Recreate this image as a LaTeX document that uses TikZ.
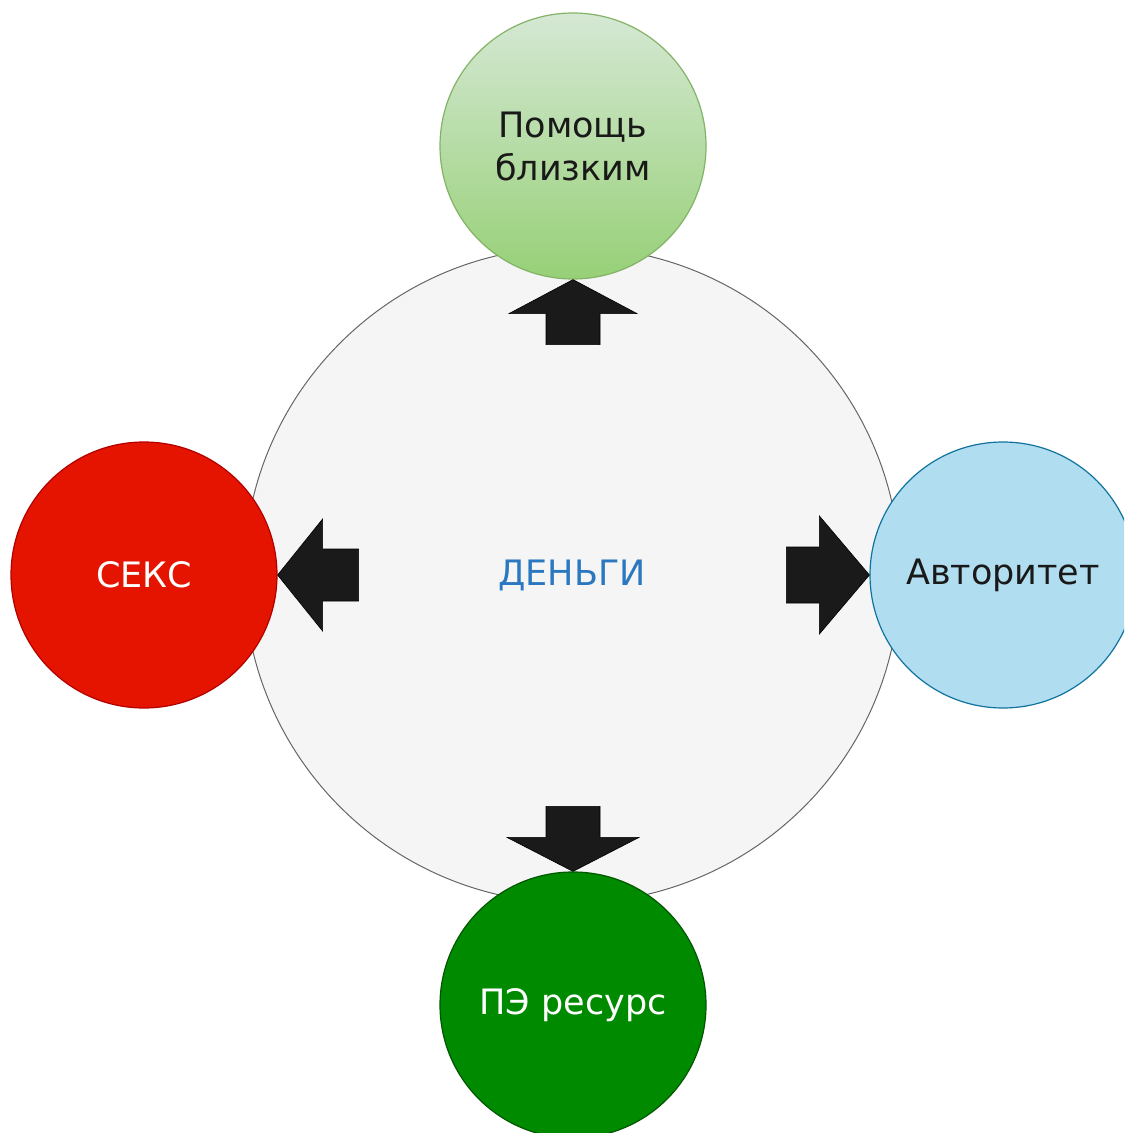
\documentclass[tikz,border=0pt]{standalone}
\usepackage{fontspec}
\setmainfont{DejaVu Sans}
\usepackage{tikz}
\usetikzlibrary{positioning}

\definecolor{moneyfill}{HTML}{F5F5F5}
\definecolor{moneyline}{HTML}{666666}
\definecolor{moneytext}{HTML}{2B78C0}
\definecolor{helptop}{HTML}{D5E8D4}
\definecolor{helpbottom}{HTML}{97D077}
\definecolor{helpline}{HTML}{82B366}
\definecolor{sexfill}{HTML}{E51400}
\definecolor{sexline}{HTML}{B20000}
\definecolor{authfill}{HTML}{B1DDF0}
\definecolor{authline}{HTML}{10739E}
\definecolor{resfill}{HTML}{008A00}
\definecolor{resline}{HTML}{005700}
\definecolor{arrowfill}{HTML}{1A1A1A}

\tikzset{
  bubble/.style={circle, minimum size=133pt, inner sep=0pt, line width=0.6pt,
    font=\fontsize{17.5}{21.5}\selectfont, align=center},
  blockarrow/.style={fill=arrowfill, draw=black, line width=0.3pt}
}

\begin{document}
\begin{tikzpicture}[x=0.5pt,y=-0.5pt]
    \useasboundingbox (0,0) rectangle (1124,1133);
    \clip (0,0) rectangle (1124,1133);

    % centre
    \node[circle, minimum size=328pt, inner sep=0pt, fill=moneyfill, draw=moneyline, line width=0.5pt,
          text=moneytext, font=\fontsize{17.5}{21}\selectfont] (money) at (572,575) {ДЕНЬГИ};

    % four around it
    \node[bubble, top color=helptop, bottom color=helpbottom, draw=helpline, text=black!90] (help) at (573,146) {Помощь\\близким};
    \node[bubble, fill=sexfill, draw=sexline, text=white] (sex) at (144,575) {СЕКС};
    \node[bubble, fill=authfill, draw=authline, text=black!90] (auth) at (1003,575) {Авторитет};
    \node[bubble, fill=resfill, draw=resline, text=white] (res) at (573,1005) {ПЭ ресурс};

    % arrows
    \filldraw[blockarrow] (help.south) -- ++(64,34) -- ++(-37,0) -- ++(0,31) -- ++(-54,0) -- ++(0,-31) -- ++(-37,0) -- cycle;
    \filldraw[blockarrow] (sex.east) -- ++(45,-56) -- ++(0,30) -- ++(36,0) -- ++(0,52) -- ++(-36,0) -- ++(0,30) -- cycle;
    \filldraw[blockarrow] (auth.west) -- ++(-50,-59) -- ++(0,31) -- ++(-33,0) -- ++(0,56) -- ++(33,0) -- ++(0,31) -- cycle;
    \filldraw[blockarrow] (res.north) -- ++(66,-34) -- ++(-39,0) -- ++(0,-31) -- ++(-54,0) -- ++(0,31) -- ++(-39,0) -- cycle;
\end{tikzpicture}
\end{document}
